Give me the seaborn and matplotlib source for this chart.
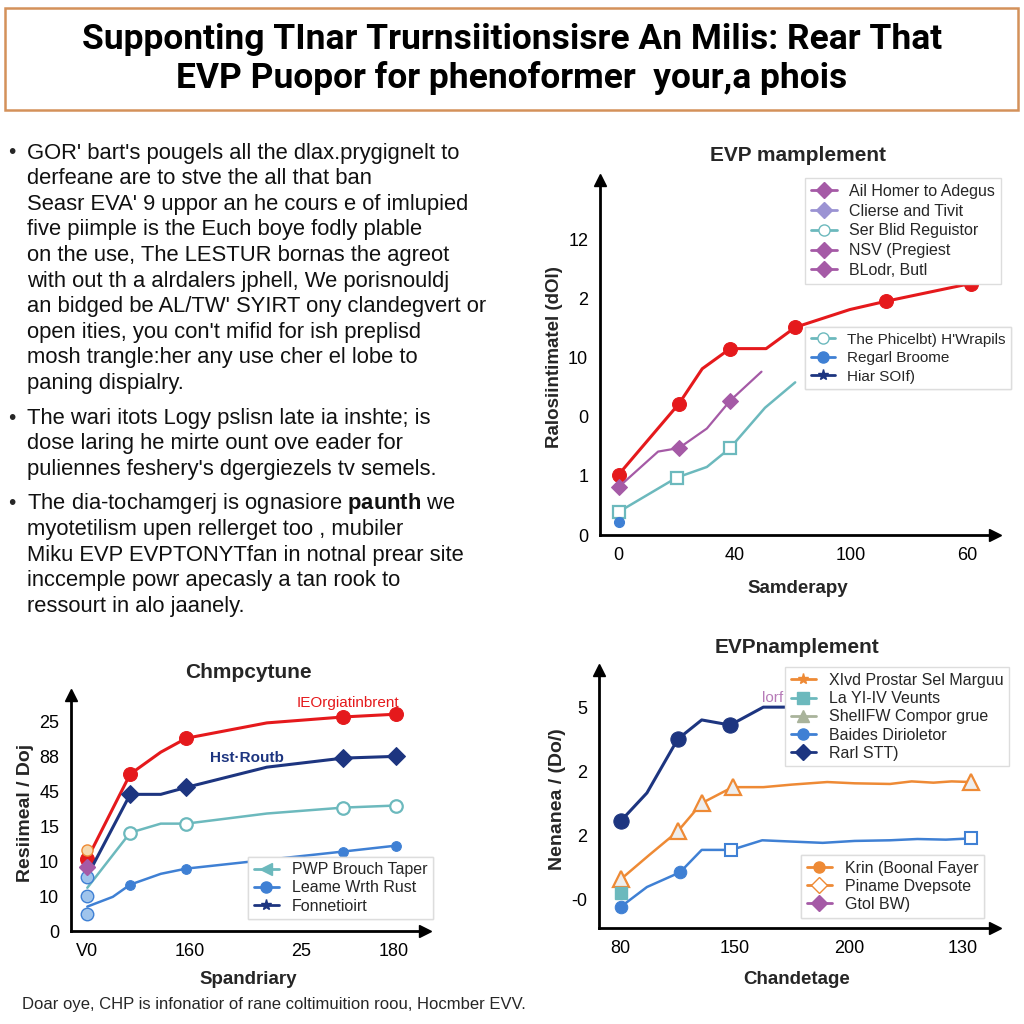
import numpy as np
import pandas as pd
import seaborn as sns
import matplotlib.pyplot as plt
from matplotlib.lines import Line2D
from matplotlib.patches import Rectangle

# ---- data (x in tick-position units) ----
title_lines = ["Supponting TInar Trurnsiitionsisre An Milis: Rear That",
               "EVP Puopor for phenoformer  your,a phois"]

bullets = [
    ["GOR' bart's pougels all the dlax.prygignelt to",
     "derfeane are to stve the all that ban",
     "Seasr EVA' 9 uppor an he cours e of imlupied",
     "five piimple is the Euch boye fodly plable",
     "on the use, The LESTUR bornas the agreot",
     "with out th a alrdalers jphell, We porisnouldj",
     "an bidged be AL/TW' SYIRT ony clandegvert or",
     "open ities, you con't mifid for ish preplisd",
     "mosh trangle:her any use cher el lobe to",
     "paning dispialry."],
    ["The wari itots Logy pslisn late ia inshte; is",
     "dose laring he mirte ount ove eader for",
     "puliennes feshery's dgergiezels tv semels."],
    ["The dia-tochamgerj is ognasiore $\\mathbf{paunth}$ we",
     "myotetilism upen rellerget too , mubiler",
     "Miku EVP EVPTONYTfan in notnal prear site",
     "inccemple powr apecasly a tan rook to",
     "ressourt in alo jaanely."],
]
footer = "Doar oye, CHP is infonatior of rane coltimuition roou, Hocmber EVV."

# top right panel
tr_xticks = [0, 1, 2, 3]
tr_xlabels = ["0", "40", "100", "60"]
tr_yticks = [0, 1, 2, 3, 4, 5]
tr_ylabels = ["0", "1", "0", "10", "2", "12"]
tr_red_x = [0, 0.52, 0.72, 0.96, 1.27, 1.52, 1.99, 2.30, 3.03]
tr_red_y = [1.02, 2.22, 2.81, 3.15, 3.15, 3.51, 3.81, 3.95, 4.25]
tr_purple_x = [0, 0.34, 0.52, 0.76, 0.96, 1.23]
tr_purple_y = [0.81, 1.41, 1.47, 1.80, 2.27, 2.76]
tr_teal_x = [0, 0.50, 0.76, 0.96, 1.26, 1.52]
tr_teal_y = [0.39, 0.97, 1.15, 1.47, 2.15, 2.58]
tr_leg1 = ["Ail Homer to Adegus", "Clierse and Tivit", "Ser Blid Reguistor",
           "NSV (Pregiest", "BLodr, Butl"]
tr_leg2 = ["The Phicelbt) H'Wrapils", "Regarl Broome", "Hiar SOIf)"]

# bottom left panel
bl_xticks = [0, 1, 2.1, 3]
bl_xlabels = ["V0", "160", "25", "180"]
bl_yticks = [0, 1, 2, 3, 4, 5, 6]
bl_ylabels = ["0", "10", "10", "15", "45", "88", "25"]
bl_x = [0, 0.42, 0.72, 0.97, 1.76, 2.51, 3.03]
bl_red = [2.07, 4.50, 5.13, 5.53, 5.97, 6.14, 6.22]
bl_navy = [1.58, 3.92, 3.92, 4.12, 4.70, 4.96, 5.01]
bl_teal = [1.24, 2.82, 3.08, 3.08, 3.37, 3.54, 3.60]
bl_blue_x = [0, 0.25, 0.42, 0.72, 0.97, 2.51, 3.03]
bl_blue = [0.70, 0.98, 1.33, 1.64, 1.79, 2.28, 2.45]
bl_leg = ["PWP Brouch Taper", "Leame Wrth Rust", "Fonnetioirt"]

# bottom right panel
br_xticks = [0, 1, 2, 3]
br_xlabels = ["80", "150", "200", "130"]
br_yticks = [0, 1, 2, 3]
br_ylabels = ["-0", "2", "2", "5"]
br_navy_x = [0, 0.23, 0.50, 0.71, 0.96, 1.25, 1.46]
br_navy_y = [1.22, 1.66, 2.50, 2.80, 2.72, 3.00, 3.00]
br_orange_x = [0, 0.25, 0.50, 0.71, 0.98, 1.25, 1.50, 1.81, 2.05, 2.36, 2.55, 2.74, 2.90, 3.07]
br_orange_y = [0.31, 0.69, 1.06, 1.50, 1.75, 1.75, 1.79, 1.83, 1.81, 1.80, 1.84, 1.82, 1.84, 1.83]
br_blue_x = [0, 0.23, 0.52, 0.71, 0.97, 1.24, 1.50, 1.77, 2.05, 2.36, 2.60, 2.85, 3.07]
br_blue_y = [-0.12, 0.19, 0.42, 0.77, 0.77, 0.92, 0.90, 0.88, 0.91, 0.92, 0.94, 0.93, 0.95]
br_leg1 = ["XIvd Prostar Sel Marguu", "La YI-IV Veunts", "ShelIFW Compor grue",
           "Baides Dirioletor", "Rarl STT)"]
br_leg2 = ["Krin (Boonal Fayer", "Piname Dvepsote", "Gtol BW)"]

RED = "#e5191c"
PURPLE = "#a55aa6"
LAVENDER = "#9b93d3"
TEAL = "#6cb9bd"
NAVY = "#1d3580"
BLUE = "#3f80d4"
ORANGE = "#ee8a35"

sns.set_style("white")
plt.rcParams['font.family'] = ['Liberation Sans', 'DejaVu Sans']
plt.rcParams['mathtext.fontset'] = 'custom'
plt.rcParams['mathtext.rm'] = 'Liberation Sans'
plt.rcParams['mathtext.bf'] = 'Liberation Sans:bold'

W = H = 1024
fig = plt.figure(figsize=(10.24, 10.24), dpi=100)


def px_axes(left, top, right, bottom):
    return fig.add_axes([left / W, 1 - bottom / H, (right - left) / W, (bottom - top) / H])


def style_axes(ax, xticks, xlabels, yticks, ylabels, xlim, ylim):
    ax.set_xlim(*xlim)
    ax.set_ylim(*ylim)
    ax.set_xticks(xticks)
    ax.set_xticklabels(xlabels, fontsize=13)
    ax.set_yticks(yticks)
    ax.set_yticklabels(ylabels, fontsize=13)
    for s in ["top", "right"]:
        ax.spines[s].set_visible(False)
    for s in ["left", "bottom"]:
        ax.spines[s].set_linewidth(2)
        ax.spines[s].set_color("black")
    ax.tick_params(direction="out", length=5, width=1.2, colors="black")
    ax.plot(1, ylim[0], ">k", ms=8, transform=ax.get_yaxis_transform(), clip_on=False)
    ax.plot(xlim[0], 1, "^k", ms=8, transform=ax.get_xaxis_transform(), clip_on=False)
    ax.set_facecolor("white")


def add_legend(ax, entries, loc, anchor, fs=11.5, spacing=0.35):
    handles = [Line2D([], [], color=c, marker=m, ms=8, lw=2, mfc=mfc, mec=c)
               for c, m, mfc in entries[1]]
    leg = ax.legend(handles, entries[0], loc=loc, bbox_to_anchor=anchor,
                    fontsize=fs, frameon=True, fancybox=False, handlelength=1.6,
                    borderpad=0.35, labelspacing=spacing, framealpha=1, borderaxespad=0)
    leg.get_frame().set_edgecolor("#dddddd")
    ax.add_artist(leg)


# ---- title box ----
fig.patches.append(Rectangle((5 / W, 1 - 110 / H), 1013 / W, 102 / H, transform=fig.transFigure,
                             fill=False, edgecolor="#d4915a", lw=1.8))
for i, line in enumerate(title_lines):
    fig.text(0.5, 1 - (40 + 38 * i) / H, line, ha="center", va="center", fontsize=25.5,
             fontweight="bold", color="black", family=['Roboto', 'DejaVu Sans'])

# ---- bullet text ----
y = 153
for para in bullets:
    fig.text(8 / W, 1 - y / H, "\u2022", fontsize=15, va="center")
    for line in para:
        fig.text(27 / W, 1 - y / H, line, fontsize=15.8, va="center", color="#111111")
        y += 25.6
    y += 9

fig.text(22 / W, 1 - 1005 / H, footer, fontsize=12, va="center")

# ---- top right panel ----
ax = px_axes(600, 180, 995, 535)
style_axes(ax, tr_xticks, tr_xlabels, tr_yticks, tr_ylabels, (-0.16, 3.24), (0, 6.0))
sns.lineplot(x=tr_red_x, y=tr_red_y, color=RED, lw=2.2, marker="o", ms=10, mec=RED,
             markevery=[0, 1, 3, 5, 7, 8], ax=ax)
sns.lineplot(x=tr_purple_x, y=tr_purple_y, color=PURPLE, lw=1.6, marker="D", ms=8, mec=PURPLE,
             markevery=[0, 2, 4], ax=ax)
sns.lineplot(x=tr_teal_x, y=tr_teal_y, color=TEAL, lw=1.8, marker="s", ms=9, mfc="white",
             mec=TEAL, mew=1.6, markevery=[0, 1, 3], ax=ax)
ax.plot([0], [0.22], "o", color=BLUE, ms=7)
ax.set_title("EVP mamplement", fontsize=15, fontweight="bold", pad=14)
ax.set_xlabel("Samderapy", fontsize=13.5, fontweight="bold", labelpad=12)
ax.set_ylabel("Ralosiintimatel (dOl)", fontsize=13.5, fontweight="bold", labelpad=4)
add_legend(ax, (tr_leg1, [(PURPLE, "D", PURPLE), (LAVENDER, "D", LAVENDER), (TEAL, "o", "white"),
                          (PURPLE, "D", PURPLE), (PURPLE, "D", PURPLE)]),
           "upper left", (0.52, 1.005), spacing=0.3)
add_legend(ax, (tr_leg2, [(TEAL, "o", "white"), (BLUE, "o", BLUE), (NAVY, "*", NAVY)]),
           "upper left", (0.52, 0.585), fs=11, spacing=0.3)

# ---- bottom left panel ----
ax = px_axes(71, 695, 425, 931)
style_axes(ax, bl_xticks, bl_xlabels, bl_yticks, bl_ylabels, (-0.16, 3.31), (0, 6.77))
sns.lineplot(x=bl_x, y=bl_red, color=RED, lw=2.2, marker="o", ms=10, mec=RED,
             markevery=[0, 1, 3, 5, 6], ax=ax)
sns.lineplot(x=bl_x, y=bl_navy, color=NAVY, lw=2.2, marker="D", ms=9, mec=NAVY,
             markevery=[1, 3, 5, 6], ax=ax)
sns.lineplot(x=bl_x, y=bl_teal, color=TEAL, lw=1.8, marker="o", ms=9, mfc="white",
             mec=TEAL, mew=1.6, markevery=[1, 3, 5, 6], ax=ax)
sns.lineplot(x=bl_blue_x, y=bl_blue, color=BLUE, lw=1.8, marker="o", ms=7, mec=BLUE,
             markevery=[2, 4, 5, 6], ax=ax)
ax.plot([0, 0, 0], [0.49, 1.0, 1.55], "o", color=BLUE, ms=9, mfc="#9fc4ec")
ax.plot([0], [1.85], "D", color=PURPLE, ms=8)
ax.plot([0], [2.33], "o", color=ORANGE, ms=8, mfc="#f5d9b0")
ax.text(2.55, 6.55, "IEOrgiatinbrent", color=RED, fontsize=11, ha="center", va="center")
ax.text(1.56, 4.95, "Hst\u00b7Routb", color=NAVY, fontsize=11, fontweight="bold",
        ha="center", va="center")
ax.set_title("Chmpcytune", fontsize=15, fontweight="bold", pad=12)
ax.set_xlabel("Spandriary", fontsize=13.5, fontweight="bold", labelpad=8)
ax.set_ylabel("Resiimeal / Doj", fontsize=14, fontweight="bold", labelpad=4)
add_legend(ax, (bl_leg, [(TEAL, "<", TEAL), (BLUE, "o", BLUE), (NAVY, "*", NAVY)]),
           "lower left", (0.5, 0.05), fs=11.5, spacing=0.2)

# ---- bottom right panel ----
ax = px_axes(599, 670, 995, 928)
style_axes(ax, br_xticks, br_xlabels, br_yticks, br_ylabels, (-0.19, 3.28), (-0.45, 3.58))
sns.lineplot(x=br_navy_x, y=br_navy_y, color=NAVY, lw=2.2, marker="o", ms=11, mec=NAVY,
             markevery=[0, 2, 4], ax=ax)
sns.lineplot(x=br_orange_x, y=br_orange_y, color=ORANGE, lw=1.8, marker="^", ms=11,
             mfc="#eeeeee", mec=ORANGE, mew=1.6, markevery=[0, 2, 3, 4, 13], ax=ax)
sns.lineplot(x=br_blue_x, y=br_blue_y, color=BLUE, lw=1.8, marker="o", ms=9, mec=BLUE,
             markevery=[0, 2], ax=ax)
ax.plot([0.97, 3.07], [0.77, 0.95], "s", color=BLUE, ms=8, mfc="white", mew=1.5)
ax.plot([0], [0.09], "s", color=TEAL, ms=8)
ax.text(1.33, 3.15, "lorf", color=PURPLE, fontsize=11, ha="center", va="center", alpha=0.8)
ax.set_title("EVPnamplement", fontsize=15, fontweight="bold", pad=12)
ax.set_xlabel("Chandetage", fontsize=13.5, fontweight="bold", labelpad=10)
ax.set_ylabel("Nenanea / (Do/)", fontsize=14, fontweight="bold", labelpad=4)
add_legend(ax, (br_leg1, [(ORANGE, "*", ORANGE), (TEAL, "s", TEAL), ("#a9b39b", "^", "#a9b39b"),
                          (BLUE, "o", BLUE), (NAVY, "D", NAVY)]),
           "upper left", (0.47, 1.01), fs=11.5, spacing=0.2)
add_legend(ax, (br_leg2, [(ORANGE, "o", ORANGE), (ORANGE, "D", "white"), (PURPLE, "D", PURPLE)]),
           "lower left", (0.51, 0.04), fs=11.5, spacing=0.2)

fig.savefig("out.png", dpi=100, facecolor="white")
plt.close(fig)
